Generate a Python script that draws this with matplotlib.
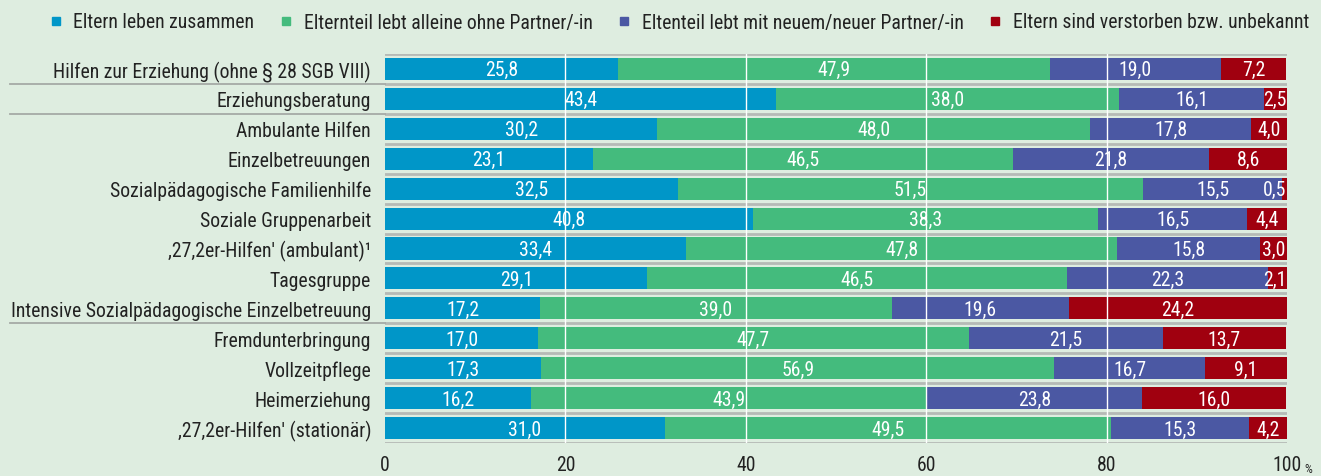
import matplotlib
matplotlib.use("Agg")
import matplotlib.pyplot as plt
from matplotlib.lines import Line2D
import numpy as np

plt.rcParams['font.family'] = ['Roboto Condensed', 'Archivo Narrow', 'DejaVu Sans']

categories = [
    "Hilfen zur Erziehung (ohne § 28 SGB VIII)",
    "Erziehungsberatung",
    "Ambulante Hilfen",
    "Einzelbetreuungen",
    "Sozialpädagogische Familienhilfe",
    "Soziale Gruppenarbeit",
    ",27,2er-Hilfen' (ambulant)¹",
    "Tagesgruppe",
    "Intensive Sozialpädagogische Einzelbetreuung",
    "Fremdunterbringung",
    "Vollzeitpflege",
    "Heimerziehung",
    ",27,2er-Hilfen' (stationär)",
]
series_names = [
    "Eltern leben zusammen",
    "Elternteil lebt alleine ohne Partner/-in",
    "Eltenteil lebt mit neuem/neuer Partner/-in",
    "Eltern sind verstorben bzw. unbekannt",
]
zusammen = [25.8, 43.4, 30.2, 23.1, 32.5, 40.8, 33.4, 29.1, 17.2, 17.0, 17.3, 16.2, 31.0]
alleine = [47.9, 38.0, 48.0, 46.5, 51.5, 38.3, 47.8, 46.5, 39.0, 47.7, 56.9, 43.9, 49.5]
neu = [19.0, 16.1, 17.8, 21.8, 15.5, 16.5, 15.8, 22.3, 19.6, 21.5, 16.7, 23.8, 15.3]
verstorben = [7.2, 2.5, 4.0, 8.6, 0.5, 4.4, 3.0, 2.1, 24.2, 13.7, 9.1, 16.0, 4.2]
xticks = [0, 20, 40, 60, 80, 100]
separator_after = [0, 1, 8]

colors = ["#0096c8", "#44bb7d", "#4b58a3", "#a0000f"]
bg = "#deede0"
fs = 14.2

fig = plt.figure(figsize=(13.21, 4.77), dpi=100, facecolor=bg)
ax = fig.add_axes([385/1321, 1-444/477, (1287-385)/1321, (444-55)/477])
ax.set_facecolor(bg)

y = np.arange(len(categories))
series = [zusammen, alleine, neu, verstorben]
left = np.zeros(len(categories))
for vals, col in zip(series, colors):
    vals = np.array(vals)
    ax.barh(y, vals, left=left, height=0.74, color=col, zorder=2)
    for yi, (l, v) in enumerate(zip(left, vals)):
        label = f"{v:.1f}".replace(".", ",")
        xc = l + v / 2
        if xc + 1.3 > 100:
            ax.text(99.9, yi + 0.03, label, ha="right", va="center",
                    color="white", fontsize=fs, zorder=4)
        else:
            ax.text(xc, yi + 0.03, label, ha="center", va="center",
                    color="white", fontsize=fs, zorder=4)
    left += vals

ax.set_xlim(0, 100)
ax.set_ylim(len(categories) - 0.5, -0.5)

for xv in xticks[1:-1]:
    ax.axvline(xv, color="white", lw=1, zorder=3)
for b in np.arange(-0.5, len(categories) + 0.5, 1):
    ax.axhline(b, color="#b5bab6", lw=2, zorder=1)

for s in separator_after:
    ax.plot([-0.416, 0], [s + 0.5, s + 0.5], color="#a5aaa6", lw=1.3,
            transform=ax.get_yaxis_transform(), clip_on=False)

ax.set_yticks(y)
ax.set_yticklabels(categories, fontsize=fs, color="#222222")
ax.set_xticks(xticks)
ax.set_xticklabels([str(t) for t in xticks], fontsize=fs, color="#222222")
ax.tick_params(axis="both", length=0)
ax.tick_params(axis="y", pad=10)
ax.tick_params(axis="x", pad=9)
for sp in ax.spines.values():
    sp.set_visible(False)
ax.text(101.9, -0.065, "%", transform=ax.get_xaxis_transform(), fontsize=9, color="#222222",
        ha="left", va="center")

handles = [Line2D([], [], marker="s", linestyle="none", markersize=6, color=c) for c in colors]
fig.legend(handles, series_names, loc="center right", bbox_to_anchor=(1.0, 1 - 23/477),
           ncol=4, frameon=False, fontsize=fs, handletextpad=0.3, columnspacing=1.0,
           labelcolor="#222222", borderaxespad=0.2, handlelength=1.2)

fig.savefig("out.png", dpi=100, facecolor=bg)
